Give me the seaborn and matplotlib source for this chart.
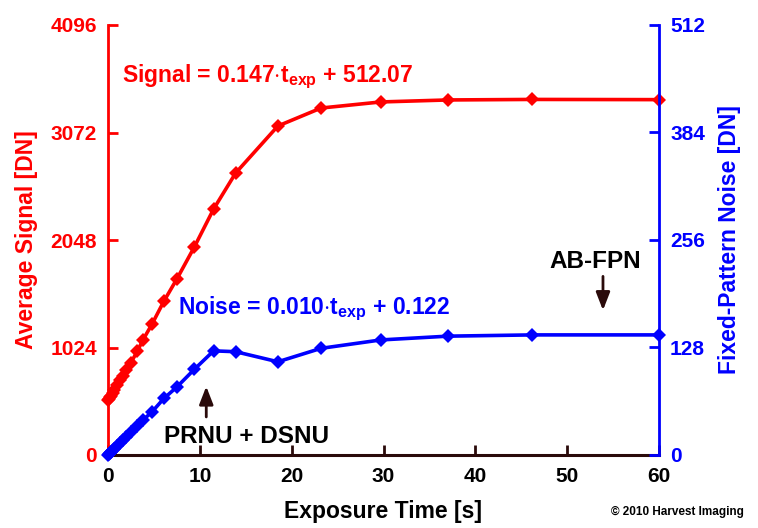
import matplotlib
matplotlib.use("Agg")
import matplotlib.pyplot as plt
import seaborn as sns
import numpy as np
import pandas as pd

# ---- data ----
exposure_s = [0, 0.1, 0.2, 0.3, 0.5, 0.7, 1.0, 1.3, 1.6, 2.0, 2.5, 3.2, 3.8, 4.8,
              6.1, 7.5, 9.4, 11.5, 13.9, 18.5, 23.2, 29.7, 37.0, 46.2, 60.0]
signal_dn = [520, 535, 550, 565, 590, 620, 665, 710, 755, 810, 880, 990, 1095, 1248,
             1467, 1677, 1981, 2343, 2686, 3134, 3305, 3363, 3382, 3387, 3385]
noise_dn = [0, 1.1, 2.2, 3.3, 5.4, 7.6, 10.8, 14.0, 17.3, 21.6, 27.0, 34.5, 41.5, 51.5,
            67.5, 81, 102, 124, 123, 111, 127, 137, 141.5, 143, 143]

left_ticks = [0, 1024, 2048, 3072, 4096]
right_ticks = [0, 128, 256, 384, 512]
x_ticks = [0, 10, 20, 30, 40, 50, 60]

RED = "#ff0000"
BLUE = "#0000ff"
DARK = "#2a0a0a"

sns.set_theme(style="white")
plt.rcParams["font.family"] = ["Liberation Sans", "DejaVu Sans"]
plt.rcParams["font.weight"] = "bold"
plt.rcParams["mathtext.fontset"] = "custom"
plt.rcParams["mathtext.rm"] = "Liberation Sans:bold"
plt.rcParams["mathtext.it"] = "Liberation Sans:bold"
plt.rcParams["mathtext.bf"] = "Liberation Sans:bold"

df = pd.DataFrame({"t": exposure_s, "signal": signal_dn, "noise": noise_dn})

fig = plt.figure(figsize=(7.58, 5.28), dpi=100)
ax = fig.add_axes([108/758, 1-455/528, (659-108)/758, (455-25)/528])
ax2 = ax.twinx()

sns.lineplot(data=df, x="t", y="signal", ax=ax, color=RED, lw=2.6,
             marker="D", markersize=7, markeredgewidth=0, clip_on=False)
sns.lineplot(data=df, x="t", y="noise", ax=ax2, color=BLUE, lw=2.6,
             marker="D", markersize=7, markeredgewidth=0, clip_on=False)

ax.set_xlim(0, 60)
ax.set_ylim(0, 4096)
ax2.set_ylim(0, 512)
ax.set_xticks(x_ticks)
ax.set_yticks(left_ticks)
ax2.set_yticks(right_ticks)

fs = 15
ax.set_xticklabels([str(v) for v in x_ticks], fontsize=fs, fontweight="bold", color="black")
ax.set_yticklabels([str(v) for v in left_ticks], fontsize=fs, fontweight="bold", color=RED)
ax2.set_yticklabels([str(v) for v in right_ticks], fontsize=fs, fontweight="bold", color=BLUE)

lfs = 16.5
ax.set_xlabel("Exposure Time [s]", fontsize=lfs, fontweight="bold", color="black", labelpad=10)
ax.set_ylabel("Average Signal [DN]", fontsize=lfs, fontweight="bold", color=RED, labelpad=9)
ax2.set_ylabel("Fixed-Pattern Noise [DN]", fontsize=lfs, fontweight="bold", color=BLUE,
               rotation=90, labelpad=9)

for a in (ax, ax2):
    for s in a.spines.values():
        s.set_visible(False)
ax.spines["left"].set_visible(True)
ax.spines["left"].set_color(RED)
ax.spines["left"].set_linewidth(2)
ax.spines["bottom"].set_visible(True)
ax.spines["bottom"].set_color(DARK)
ax.spines["bottom"].set_linewidth(2.2)
ax2.spines["right"].set_visible(True)
ax2.spines["right"].set_color(BLUE)
ax2.spines["right"].set_linewidth(2)

ax.tick_params(axis="x", direction="in", length=7, width=2, color=DARK, pad=9, bottom=True)
ax.tick_params(axis="y", direction="in", length=7, width=2, color=RED, pad=8, left=True)
ax2.tick_params(axis="y", direction="in", length=7, width=2, color=BLUE, pad=8, right=True)
ax.grid(False)
ax2.grid(False)
ax.set_facecolor("none")

efs = 16.5
ax.text(1.5, 3601, r"Signal = 0.147$\cdot$t$_{\mathrm{exp}}$ + 512.07", fontsize=efs,
        fontweight="bold", color=RED, va="center", ha="left")
ax2.text(7.6, 174, r"Noise = 0.010$\cdot$t$_{\mathrm{exp}}$ + 0.122", fontsize=efs,
         fontweight="bold", color=BLUE, va="center", ha="left")

afs = 17.5
ax2.annotate("", xy=(10.7, 85), xytext=(10.7, 42),
             arrowprops=dict(arrowstyle="-|>,head_width=0.35,head_length=0.9",
                             color=DARK, lw=2))
ax2.text(15.1, 21.5, "PRNU + DSNU", fontsize=afs, fontweight="bold", color="black",
         ha="center", va="center")
ax2.annotate("", xy=(53.9, 169), xytext=(53.9, 216),
             arrowprops=dict(arrowstyle="-|>,head_width=0.35,head_length=0.9",
                             color=DARK, lw=2))
ax2.text(53.0, 230, "AB-FPN", fontsize=afs, fontweight="bold", color="black",
         ha="center", va="center")

fig.text(677/758, 1-512/528, "© 2010 Harvest Imaging", fontsize=8.5, fontweight="bold",
         color="black", ha="center", va="center")

fig.savefig("out.png", dpi=100, facecolor="white")
